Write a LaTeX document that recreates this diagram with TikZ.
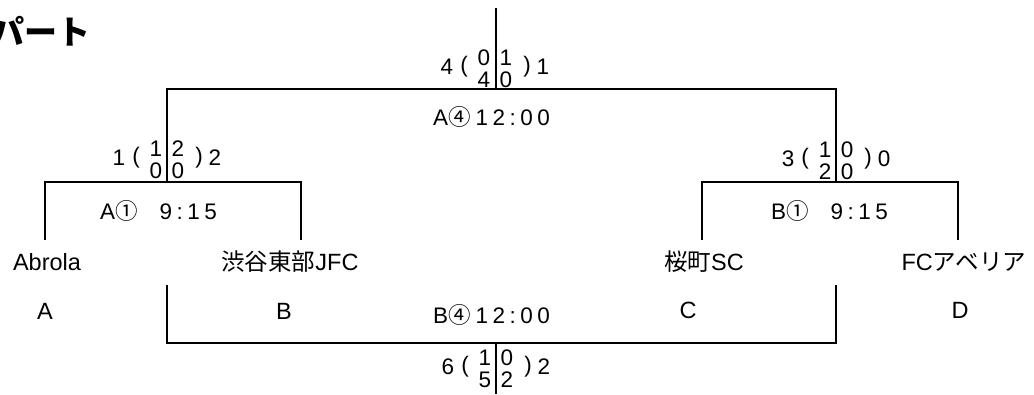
\documentclass[tikz,border=0pt]{standalone}
\usepackage{fontspec}
\setmainfont{Liberation Sans}
\newfontfamily\jp{Noto Sans CJK JP}
\newcommand\ls{\kern4.5pt}
\tikzset{
  thickln/.style={line width=2.8pt},
  thinln/.style={line width=1.3pt},
  txt/.style={inner sep=0pt, font=\fontsize{22.5}{22}\selectfont},
  team/.style={inner sep=0pt, font=\fontsize{23.5}{24}\selectfont},
  timelbl/.style={inner sep=0pt, anchor=west, font=\fontsize{22.5}{22}\selectfont},
  stack/.style={inner sep=0pt, align=center, font=\fontsize{22.5}{22}\selectfont},
}
% #1 name, #2 x of divider, #3 y of main digits, #4 left score, #5 top-left, #6 bottom-left, #7 top-right, #8 bottom-right, #9 right score
\newcommand\scoregrp[9]{%
  \node[txt] (#1L) at (#2-48,#3) {#4};
  \node[txt] (#1o) at (#2-31,#3) {(};
  \node[stack] (#1sl) at (#2-11,#3+2) {#5\\#6};
  \node[stack] (#1sr) at (#2+11,#3+2) {#7\\#8};
  \node[txt] (#1c) at (#2+32,#3) {)};
  \node[txt] (#1R) at (#2+48,#3) {#9};
}
\begin{document}
\begin{tikzpicture}[x=1pt,y=-1pt]
\useasboundingbox (0,0) rectangle (1034,394);
\clip (0,0) rectangle (1034,394);
% title
\node[inner sep=0pt, anchor=east, font=\fontsize{33}{33}\selectfont\jp\bfseries] (title) at (91,31) {パート};

% coordinates of the bracket
\coordinate (root) at (496,8);
\coordinate (rootj) at (496,89);
\coordinate (sfL) at (167,89);
\coordinate (sfR) at (836,89);
\coordinate (qL) at (167,182);
\coordinate (qR) at (836,182);
\coordinate (qLa) at (45,182);
\coordinate (qLb) at (301,182);
\coordinate (qRc) at (702,182);
\coordinate (qRd) at (958,182);
\coordinate (legA) at (45,240);
\coordinate (legB) at (301,240);
\coordinate (legC) at (702,240);
\coordinate (legD) at (958,240);

\draw[thickln] (root) -- (rootj);
\draw[thickln] (qL) -- (sfL) -- (sfR) -- (qR);
\draw[thickln] (legA) -- (qLa) -- (qLb) -- (legB);
\draw[thickln] (legC) -- (qRc) -- (qRd) -- (legD);

% bottom (thin) bracket
\coordinate (bB) at (167,285);
\coordinate (bBc) at (167,343);
\coordinate (bC) at (836,285);
\coordinate (bCc) at (836,343);
\coordinate (bj) at (496,343);
\coordinate (bend) at (496,394);
\draw[thinln] (bB) -- (bBc) -- (bCc) -- (bC);
\draw[thinln] (bj) -- (bend);

% teams
\node[team] (tA) at (47,262) {Abrola};
\node[team] (tB) at (290,262) {{\jp 渋谷東部}JFC};
\node[team] (tC) at (704,262) {{\jp 桜町}SC};
\node[team] (tD) at (964,262) {FC{\jp アベリア}};
\node[team] (lA) at (45,311) {A};
\node[team] (lB) at (284,311) {B};
\node[team] (lC) at (688,310) {C};
\node[team] (lD) at (960,310) {D};

% match times
\node[timelbl] (m4a) at (433,117) {A{\jp ④}\kern5pt 1\ls 2\ls :\ls 0\ls 0};
\node[timelbl] (m1a) at (100,211) {A{\jp ①}\kern22pt 9\ls :\ls 1\ls 5};
\node[timelbl] (m1b) at (771,211) {B{\jp ①}\kern22pt 9\ls :\ls 1\ls 5};
\node[timelbl] (m4b) at (433,315) {B{\jp ④}\kern5pt 1\ls 2\ls :\ls 0\ls 0};

% scores
\scoregrp{sT}{495}{67}{4}{0}{4}{1}{0}{1}
\scoregrp{sL}{167}{158}{1}{1}{0}{2}{0}{2}
\scoregrp{sR}{836}{159}{3}{1}{2}{0}{0}{0}
\scoregrp{sB}{496}{367}{6}{1}{5}{0}{2}{2}
\end{tikzpicture}
\end{document}
